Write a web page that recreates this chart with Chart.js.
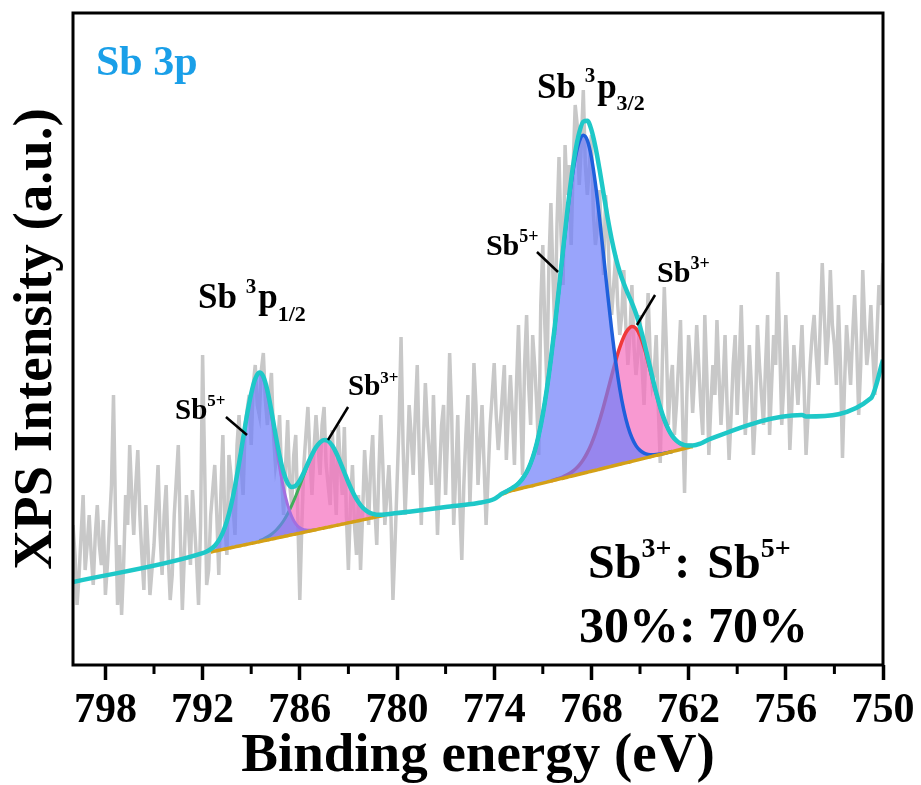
<!DOCTYPE html>
<html>
<head>
<meta charset="utf-8">
<script src="https://cdn.jsdelivr.net/npm/chart.js@4.4.1/dist/chart.umd.min.js"></script>
<style>
  html, body { margin: 0; padding: 0; background: #fff; }
  #wrap { width: 921px; height: 785px; position: relative; }
</style>
</head>
<body>
<div id="wrap"><canvas id="c"></canvas></div>
<script>
// ---------------- data (binding energy in eV, intensity in arbitrary units) ----------------
const xMajorTicks = [798, 792, 786, 780, 774, 768, 762, 756, 750];
const xMinorTicks = [795, 789, 783, 777, 771, 765, 759, 753];

// raw spectrum: sampled every 0.125 eV from 800 eV down to 750 eV
const rawStart = 800;
const rawStep = 0.125;
const rawIntensity = [
  140,110,60,90,130,170,95,120,150,110,80,130,160,120,100,145,70,100,140,180,
  270,150,60,120,50,100,170,140,220,170,130,180,215,150,110,75,160,120,70,95,
  120,160,200,130,90,150,180,110,65,90,150,185,220,130,55,110,170,140,100,175,
  140,105,60,140,310,200,80,95,150,175,
  200,150,90,170,230,140,110,210,190,160,130,220,250,200,170,240,255,270,220,280,
  300,260,250,295,312,265,240,270,292,230,200,215,250,190,150,200,245,180,160,210,
  230,150,65,140,200,230,258,210,170,215,250,220,190,240,258,200,180,160,235,190,
  150,240,200,170,238,150,95,160,200,140,110,170,95,150,215,180,140,200,230,160,
  120,190,250,200,140,170,
  200,150,65,120,180,240,328,220,150,200,260,230,190,250,300,210,140,220,282,240,
  210,180,270,200,130,190,240,260,170,230,312,250,140,190,250,160,105,180,230,270,
  160,220,302,260,180,220,260,200,140,190,240,270,302,250,215,240,270,300,205,250,
  290,250,
  200,280,340,260,190,300,350,280,240,330,300,260,210,360,420,340,280,400,462,390,
  330,440,508,430,380,520,470,500,420,500,560,540,480,520,575,500,470,500,530,450,
  420,440,475,430,390,470,440,380,350,380,410,360,330,350,395,340,300,330,380,320,
  290,310,350,300,260,320,372,310,280,290,330,260,202,300,378,320,240,280,300,230,
  260,300,345,250,172,260,330,300,252,290,
  340,300,260,230,350,290,210,260,300,270,345,290,240,280,330,260,205,250,300,330,
  250,300,360,290,230,270,320,280,210,250,340,300,270,240,300,350,230,280,330,300,
  393,320,240,280,350,300,215,260,320,290,260,300,340,280,210,250,300,330,350,310,
  280,340,402,350,300,330,395,340,320,280,360,300,207,280,340,310,280,330,370,320,
  250,300,395,340,300,320,360,310,270,330,380,360,402
];

// fitted envelope (cumulative fit)
const envelopeEnergy = [
  800.00,792.00,791.75,791.50,791.25,791.00,790.75,790.50,790.25,790.00,789.75,789.50,789.25,789.00,788.75,788.50,788.25,788.00,
  787.75,787.50,787.25,787.00,786.75,786.50,786.25,786.00,785.75,785.50,785.25,785.00,784.75,784.50,784.25,784.00,783.75,783.50,
  783.25,783.00,782.75,782.50,782.25,782.00,781.75,781.50,781.25,781.00,780.75,779.25,777.00,775.00,774.00,773.50,773.25,773.00,
  772.75,772.50,772.25,772.00,771.75,771.50,771.25,771.00,770.75,770.50,770.25,770.00,769.75,769.50,769.25,769.00,768.75,768.50,
  768.25,768.00,767.75,767.50,767.25,767.00,766.75,766.50,766.25,766.00,765.75,765.50,765.25,765.00,764.75,764.50,764.25,764.00,
  763.75,763.50,763.25,763.00,762.75,762.50,762.25,762.00,761.75,761.25,760.75,755.00,754.75,750.75,750.00
];
const envelopeIntensity = [
  83,111.8,113.5,115.8,119.3,124.6,132.5,143.8,159.2,178.6,201.7,226.6,250.9,271.6,286.3,292.4,288.3,274.4,
  253.8,230.7,209.4,192.5,182.0,177.9,179.2,184.7,192.5,201.6,210.3,217.7,222.7,225.0,224.0,219.4,212.0,202.6,
  192.5,182.5,173.4,165.8,159.9,155.6,152.8,151.2,150.3,150.3,150.6,153.3,158.0,162.0,166.0,171.6,173.6,175.9,
  178.4,181.7,186.4,192.8,201.7,213.9,230.0,250.5,275.9,305.9,340.1,377.1,415.0,452.0,485.3,512.8,532.5,543.4,
  544.2,535.1,518.0,495.8,471.4,447.4,425.9,407.8,393.2,381.5,371.5,362.2,351.5,338.4,323.0,306.0,288.7,272.2,
  257.5,245.4,235.8,228.9,224.3,221.4,219.9,219.4,219.4,221.5,225.5,250.0,248.5,266.7,305.0
];

// backgrounds under the two doublet lines (0.25 eV steps)
const bg12Start = 791.5;
const bg12 = [113.0,113.9,114.7,115.6,116.4,117.3,118.1,119.0,119.9,120.7,121.6,122.4,123.3,124.1,125.0,125.9,126.7,127.6,128.4,129.3,
  130.2,131.0,131.9,132.7,133.6,134.4,135.3,136.2,137.0,137.9,138.7,139.6,140.4,141.3,142.2,143.0,143.9,144.7,145.6,146.4,147.3,148.1,149.0,149.9];
const bg32Start = 773.5;
const bg32 = [171.0,172.5,174.0,175.0,176.0,177.0,178.0,178.9,179.9,180.9,181.9,182.9,183.9,184.9,185.9,186.8,187.8,188.8,189.8,190.8,
  191.8,192.8,193.8,194.7,195.7,196.7,197.7,198.7,199.7,200.7,201.7,202.6,203.6,204.6,205.6,206.6,207.6,208.6,209.6,210.5,211.5,212.5,
  213.5,214.5,215.5,216.5,217.5,218.4];

// fitted components (0.25 eV steps)
const sb5p12Start = 791.5;
const sb5p12 = [115.8,119.3,124.6,132.5,143.8,159.2,178.6,201.7,226.6,250.9,271.6,285.7,291.3,286.4,271.3,248.9,223.2,198.3,176.7,
  160.1,148.5,141.2,137.2,135.2,134.7,134.9,135.5];
const sb3p12Start = 788.5;
const sb3p12 = [124.4,126.0,128.1,130.8,134.2,138.7,144.2,151.2,159.6,169.0,179.4,190.0,200.5,209.8,217.5,222.7,225.0,224.0,219.4,
  212.0,202.6,192.5,182.5,173.4,165.8,159.9,155.6,152.8,151.2,150.3,150.3,150.6];
const sb5p32Start = 773.5;
const sb5p32 = [171.6,173.6,175.9,178.4,181.7,186.4,192.8,201.7,213.9,230.0,250.5,275.9,305.7,339.7,376.3,413.7,449.7,481.6,506.9,
  523.4,529.8,524.6,507.7,480.9,447.1,409.6,371.4,335.3,303.2,276.3,254.9,238.7,227.2,219.4,214.6,211.9,210.6,210.2,210.4,210.9,211.7,212.6,213.5];
const sb3p32Start = 770.5;
const sb3p32 = [184.1,185.3,186.7,188.1,190.1,192.5,195.7,199.9,205.4,212.4,221.2,231.8,244.4,258.5,273.7,289.3,304.3,317.6,328.3,
  335.4,338.6,336.7,329.4,317.7,303.0,287.1,271.4,257.1,245.2,235.8,228.9,224.3,221.4,219.9,219.4,219.4];

// ---------------- helpers ----------------
function stepSeries(start, step, values) {
  return values.map((v, i) => ({ x: +(start - i * step).toFixed(3), y: v }));
}
function pairSeries(xs, ys) { return xs.map((x, i) => ({ x: x, y: ys[i] })); }

const SERIF = '"Liberation Serif", "Times New Roman", Times, serif';

// annotation texts (positions in data units: eV, intensity)
const annotations = [
  { e: 798.58, v: 590, color: '#1a9fe8', parts: [{ t: 'Sb 3p', s: 42 }] },
  { e: 792.28, v: 357, parts: [{ t: 'Sb ', s: 35 }, { t: '3', s: 21, dy: -15 }, { t: 'p', s: 35, dx: 2 }, { t: '1/2', s: 22, dy: 13 }] },
  { e: 771.36, v: 567, parts: [{ t: 'Sb ', s: 35 }, { t: '3', s: 21, dy: -16 }, { t: 'p', s: 35, dx: 2 }, { t: '3/2', s: 22, dy: 12 }] },
  { e: 793.70, v: 246, parts: [{ t: 'Sb', s: 29 }, { t: '5+', s: 17, dy: -13 }] },
  { e: 783.02, v: 270, parts: [{ t: 'Sb', s: 29 }, { t: '3+', s: 17, dy: -12 }] },
  { e: 774.51, v: 410, parts: [{ t: 'Sb', s: 30 }, { t: '5+', s: 18, dy: -13 }] },
  { e: 763.95, v: 383, parts: [{ t: 'Sb', s: 30 }, { t: '3+', s: 18, dy: -13 }] },
  { e: 768.21, v: 87, parts: [{ t: 'Sb', s: 48 }, { t: '3+', s: 28, dy: -21 }, { t: ': ', s: 48, dx: 3 }, { t: 'Sb', s: 48, dx: 5 }, { t: '5+', s: 28, dy: -21 }] },
  { e: 768.77, v: 23, parts: [{ t: '30%: 70%', s: 50 }] }
];
const leaders = [
  [790.56, 248, 789.26, 230],
  [783.02, 258, 784.26, 225],
  [771.36, 413, 770.06, 393],
  [764.07, 370, 765.19, 340]
];

function drawRich(ctx, x0, y0, parts, color) {
  let x = x0;
  ctx.fillStyle = color || '#000';
  ctx.textBaseline = 'alphabetic';
  ctx.textAlign = 'left';
  for (const p of parts) {
    ctx.font = 'bold ' + p.s + 'px ' + SERIF;
    x += p.dx || 0;
    ctx.fillText(p.t, x, y0 + (p.dy || 0));
    x += ctx.measureText(p.t).width;
  }
}

const overlay = {
  id: 'overlay',
  afterDraw(chart) {
    const { ctx, chartArea: a, scales } = chart;
    const sx = scales.x, sy = scales.y;
    ctx.save();
    ctx.strokeStyle = '#000';
    // minor ticks
    ctx.lineWidth = 3;
    xMinorTicks.forEach(v => {
      const px = sx.getPixelForValue(v);
      ctx.beginPath(); ctx.moveTo(px, a.bottom); ctx.lineTo(px, a.bottom + 9); ctx.stroke();
    });
    // frame
    ctx.lineWidth = 3;
    ctx.strokeRect(a.left, a.top, a.right - a.left, a.bottom - a.top);
    // leader lines
    ctx.lineWidth = 2.5;
    leaders.forEach(l => {
      ctx.beginPath();
      ctx.moveTo(sx.getPixelForValue(l[0]), sy.getPixelForValue(l[1]));
      ctx.lineTo(sx.getPixelForValue(l[2]), sy.getPixelForValue(l[3]));
      ctx.stroke();
    });
    annotations.forEach(an => drawRich(ctx, sx.getPixelForValue(an.e), sy.getPixelForValue(an.v), an.parts, an.color));
    ctx.restore();
  }
};

const smooth = { cubicInterpolationMode: 'monotone', pointRadius: 0 };

new Chart(document.getElementById('c'), {
  type: 'line',
  data: {
    datasets: [
      Object.assign({ label: 'Envelope', data: pairSeries(envelopeEnergy, envelopeIntensity), borderColor: '#1ec8c8', borderWidth: 4.5, fill: false }, smooth),
      Object.assign({ label: 'Background 3p1/2', data: stepSeries(bg12Start, 0.25, bg12), borderColor: '#d4a017', borderWidth: 3.5, fill: false }, smooth),
      Object.assign({ label: 'Background 3p3/2', data: stepSeries(bg32Start, 0.25, bg32), borderColor: '#d4a017', borderWidth: 3.5, fill: false }, smooth),
      Object.assign({ label: 'Sb5+ 3p1/2', data: stepSeries(sb5p12Start, 0.25, sb5p12), borderColor: '#a36ee0', borderWidth: 3, fill: 1, backgroundColor: 'rgba(110,125,250,0.7)' }, smooth),
      Object.assign({ label: 'Sb5+ 3p3/2', data: stepSeries(sb5p32Start, 0.25, sb5p32), borderColor: '#1f60dc', borderWidth: 3.5, fill: 2, backgroundColor: 'rgba(110,125,250,0.7)' }, smooth),
      Object.assign({ label: 'Sb3+ 3p1/2', data: stepSeries(sb3p12Start, 0.25, sb3p12), borderColor: '#3fae5a', borderWidth: 3, fill: 1, backgroundColor: 'rgba(245,110,190,0.7)' }, smooth),
      Object.assign({ label: 'Sb3+ 3p3/2', data: stepSeries(sb3p32Start, 0.25, sb3p32), borderColor: '#f03a3a', borderWidth: 3.5, fill: 2, backgroundColor: 'rgba(245,110,190,0.7)' }, smooth),
      { label: 'Raw', data: stepSeries(rawStart, rawStep, rawIntensity), borderColor: '#c8c8c8', borderWidth: 3.5, pointRadius: 0, tension: 0, fill: false }
    ]
  },
  options: {
    responsive: true,
    maintainAspectRatio: false,
    animation: false,
    devicePixelRatio: 1,
    layout: { padding: { top: 13, right: 38, left: 0, bottom: 0 } },
    plugins: { legend: { display: false }, tooltip: { enabled: false } },
    scales: {
      x: {
        type: 'linear',
        min: 750, max: 800, reverse: true,
        afterFit: s => { s.height = 120; },
        afterBuildTicks: s => { s.ticks = xMajorTicks.map(v => ({ value: v })); },
        grid: { drawOnChartArea: false, drawTicks: true, tickLength: 15, tickWidth: 3.5, tickColor: '#000' },
        border: { display: false },
        ticks: {
          autoSkip: false, maxRotation: 0, padding: 6, color: '#000',
          font: { family: SERIF, size: 42, weight: 'bold' },
          callback: v => String(v)
        },
        title: {
          display: true, text: 'Binding energy (eV)', color: '#000',
          font: { family: SERIF, size: 55, weight: 'bold', lineHeight: 1 },
          padding: { top: 0, bottom: 1 }
        }
      },
      y: {
        type: 'linear',
        min: 0, max: 652,
        afterFit: s => { s.width = 73; },
        grid: { display: false, drawTicks: false },
        border: { display: false },
        ticks: { display: false },
        title: {
          display: true, text: 'XPS Intensity (a.u.)', color: '#000',
          font: { family: SERIF, size: 55, weight: 'bold', lineHeight: 1 },
          padding: { top: 9, bottom: 0 }
        }
      }
    }
  },
  plugins: [overlay]
});
</script>
</body>
</html>
